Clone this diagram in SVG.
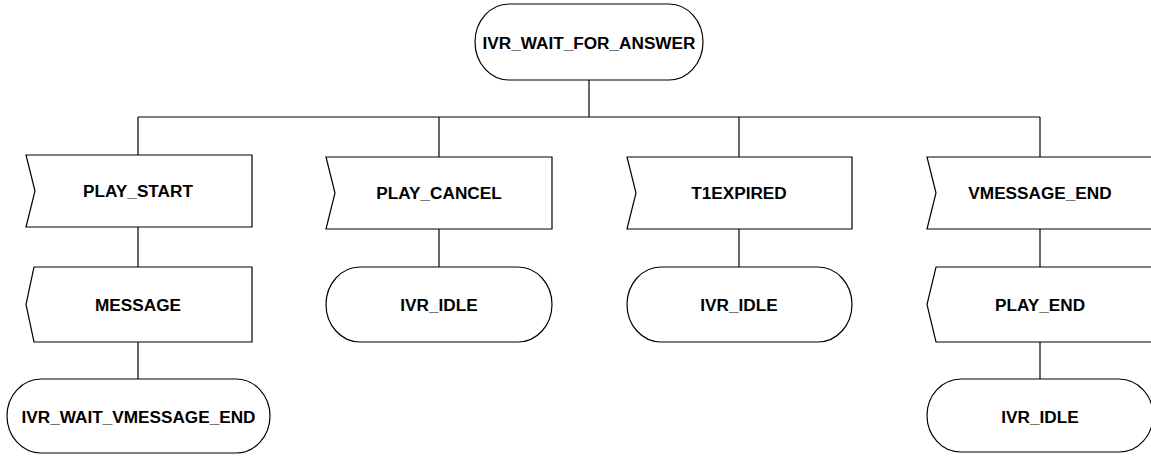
<svg xmlns="http://www.w3.org/2000/svg" width="1151" height="456" viewBox="0 0 1151 456">
  <style>
    .shape { fill: #ffffff; stroke: #000000; stroke-width: 1.2; }
    .wire { fill: none; stroke: #000000; stroke-width: 1.2; }
    .label { font-family: "Liberation Sans", Arial, sans-serif; font-weight: bold; font-size: 17.2px; fill: #000000; text-anchor: middle; }
  </style>
  <rect width="1151" height="456" fill="#ffffff"/>

  <!-- connectors -->
  <g id="connectors" class="wire">
    <path d="M589 80 V117"/>
    <path d="M138 117 H1040"/>
    <path d="M138 117 V155"/>
    <path d="M439 117 V157"/>
    <path d="M739 117 V157"/>
    <path d="M1040 117 V157"/>
    <path d="M138 227 V267"/>
    <path d="M138 342 V379"/>
    <path d="M439 229 V267"/>
    <path d="M739 229 V267"/>
    <path d="M1040 229 V267"/>
    <path d="M1040 342 V379"/>
  </g>

  <!-- state -->
  <g id="ivr_wait_for_answer">
    <rect class="shape" x="475" y="4" width="228" height="76" rx="34" ry="38"/>
    <text class="label" x="589" y="48.5">IVR_WAIT_FOR_ANSWER</text>
  </g>

  <!-- branch 1 -->
  <g id="play_start">
    <polygon class="shape" points="26,155 252,155 252,227 26,227 35,191"/>
    <text class="label" x="138" y="197">PLAY_START</text>
  </g>
  <g id="message">
    <polygon class="shape" points="34,267 252,267 252,342 34,342 26,304.5"/>
    <text class="label" x="138" y="310.5">MESSAGE</text>
  </g>
  <g id="ivr_wait_vmessage_end">
    <rect class="shape" x="7" y="379" width="263" height="74" rx="34" ry="37"/>
    <text class="label" x="138.5" y="422.5">IVR_WAIT_VMESSAGE_END</text>
  </g>

  <!-- branch 2 -->
  <g id="play_cancel">
    <polygon class="shape" points="326,157 552,157 552,229 326,229 335,193"/>
    <text class="label" x="439" y="199">PLAY_CANCEL</text>
  </g>
  <g id="ivr_idle_1">
    <rect class="shape" x="326" y="267" width="226" height="75" rx="34" ry="37.5"/>
    <text class="label" x="439" y="310.5">IVR_IDLE</text>
  </g>

  <!-- branch 3 -->
  <g id="t1expired">
    <polygon class="shape" points="627,157 852,157 852,229 627,229 636,193"/>
    <text class="label" x="739" y="199">T1EXPIRED</text>
  </g>
  <g id="ivr_idle_2">
    <rect class="shape" x="627" y="267" width="225" height="75" rx="34" ry="37.5"/>
    <text class="label" x="739" y="310.5">IVR_IDLE</text>
  </g>

  <!-- branch 4 -->
  <g id="vmessage_end">
    <polygon class="shape" points="927,157 1153,157 1153,229 927,229 936,193"/>
    <text class="label" x="1040" y="199">VMESSAGE_END</text>
  </g>
  <g id="play_end">
    <polygon class="shape" points="936,267 1153,267 1153,342 936,342 927,304.5"/>
    <text class="label" x="1040" y="310.5">PLAY_END</text>
  </g>
  <g id="ivr_idle_3">
    <rect class="shape" x="927" y="379" width="226" height="73" rx="34" ry="36.5"/>
    <text class="label" x="1040" y="422.5">IVR_IDLE</text>
  </g>
</svg>
